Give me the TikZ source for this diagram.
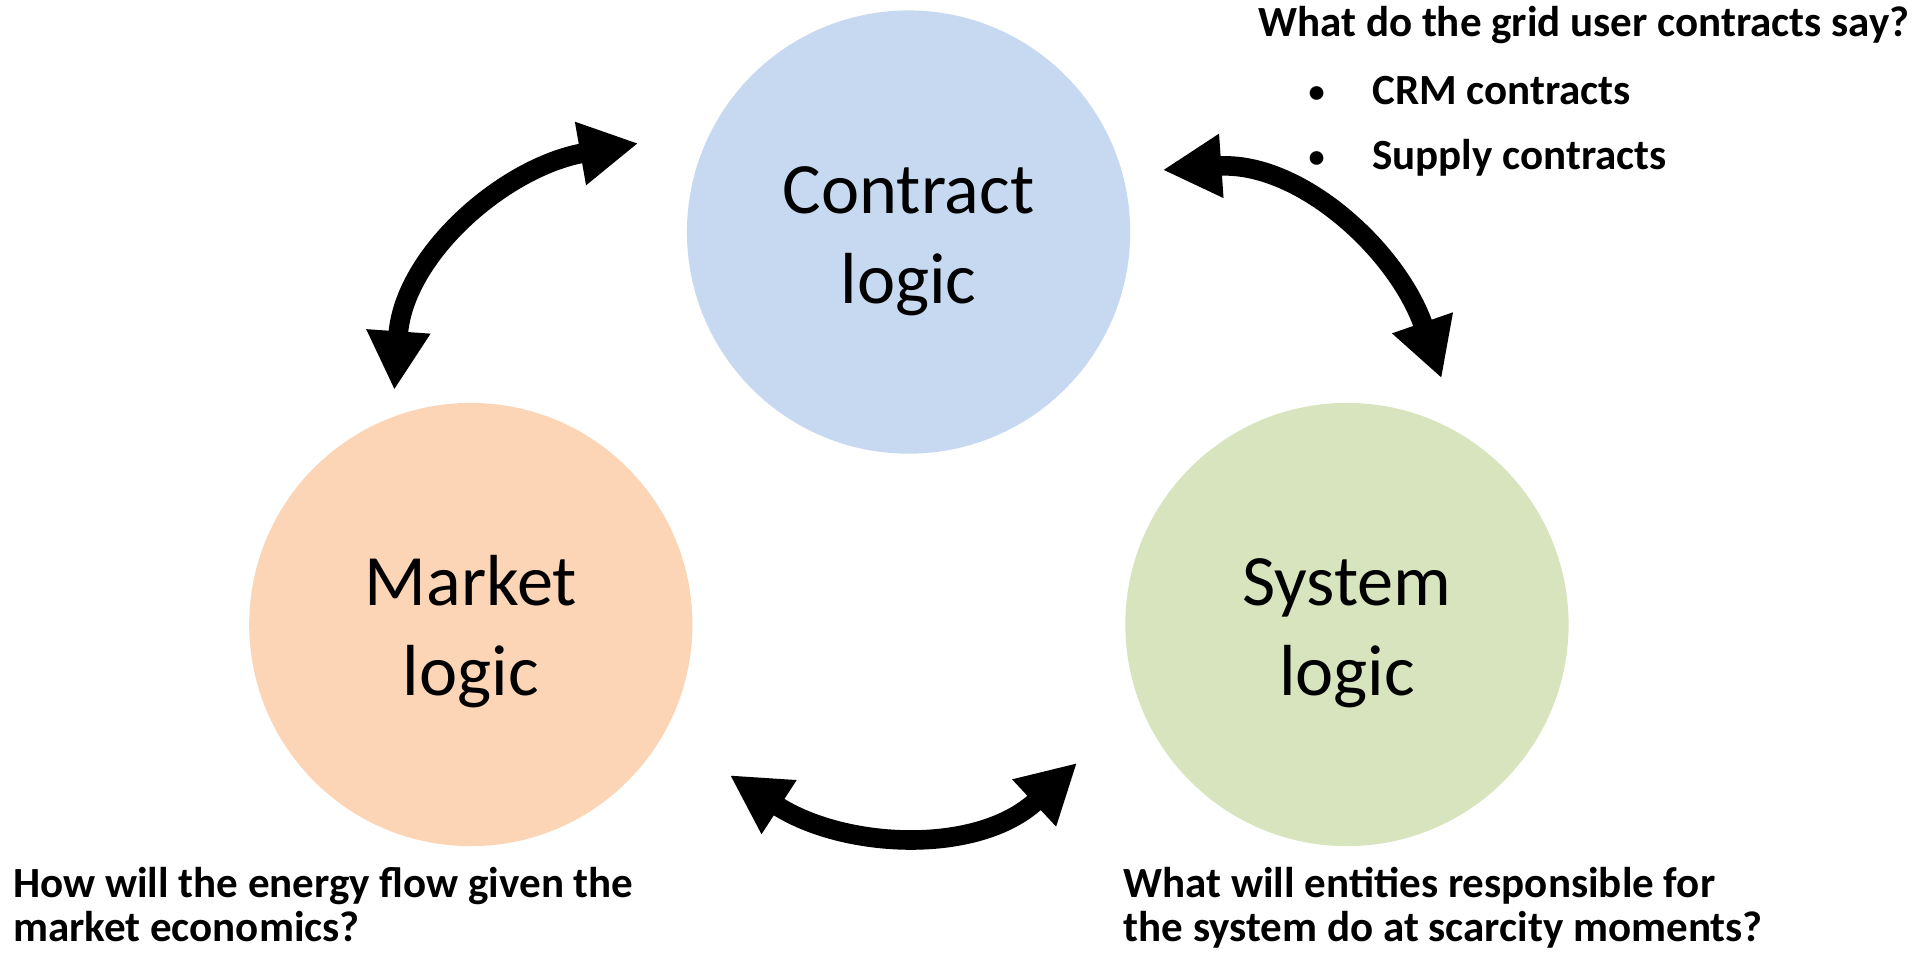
\documentclass[tikz,border=0pt]{standalone}
\usepackage{fontspec}
\setmainfont{Carlito}
\usetikzlibrary{arrows.meta}
\definecolor{contractblue}{RGB}{198,217,240}
\definecolor{marketorange}{RGB}{251,213,181}
\definecolor{systemgreen}{RGB}{215,228,189}
\begin{document}
\begin{tikzpicture}[
    logic/.style={circle, minimum size=3.62cm, inner sep=0pt, align=center,
      font=\fontsize{16.8}{20.9}\selectfont},
    question/.style={anchor=base west, inner sep=0pt,
      font=\fontsize{10}{12}\selectfont\bfseries},
    bulletdot/.style={anchor=base, inner sep=0pt,
      font=\fontsize{7.5}{9}\selectfont\bfseries},
    twoway/.style={{Triangle[length=4.8mm,width=4.9mm]}-{Triangle[length=4.8mm,width=4.9mm]},
      line width=1.6mm}
  ]
    \useasboundingbox (0,0) rectangle (15.68,-7.78);
    \node[logic, fill=contractblue] (contract) at (7.42,-1.895) {\rule{0pt}{0.53cm}Contract\\logic};
    \node[logic, fill=marketorange] (market) at (3.845,-5.10) {\rule{0pt}{0.53cm}Market\\logic};
    \node[logic, fill=systemgreen] (system) at (11.00,-5.10) {\rule{0pt}{0.53cm}System\\logic};
    % questions
    \node[question] (askcontract) at (10.27,-0.30) {What do the grid user contracts say?};
    \node[bulletdot] (crmdot) at (10.753,-0.835) {\textbullet};
    \node[question] (crm) at (11.20,-0.857) {CRM contracts};
    \node[bulletdot] (supplydot) at (10.753,-1.366) {\textbullet};
    \node[question] (supply) at (11.20,-1.388) {Supply contracts};
    \node[question] (askmarket) at (0.10,-7.328) {How will the energy flow given the};
    \node[question] (askmarketb) at (0.10,-7.69) {market economics?};
    \node[question] (asksystem) at (9.17,-7.328) {What will entities responsible for};
    \node[question] (asksystemb) at (9.17,-7.69) {the system do at scarcity moments?};
    % arrow ends
    \coordinate (mtop) at (3.22,-3.185);
    \coordinate (cleft) at (5.213,-1.17);
    \coordinate (cright) at (9.495,-1.388);
    \coordinate (stop) at (11.773,-3.09);
    \coordinate (mright) at (5.96,-6.33);
    \coordinate (sleft) at (8.796,-6.23);
    \draw[twoway] (mtop) to[out=86,in=190] (cleft);
    \draw[twoway] (cright) to[out=4,in=109] (stop);
    \draw[twoway] (mright) to[out=-33,in=223] (sleft);
\end{tikzpicture}
\end{document}
